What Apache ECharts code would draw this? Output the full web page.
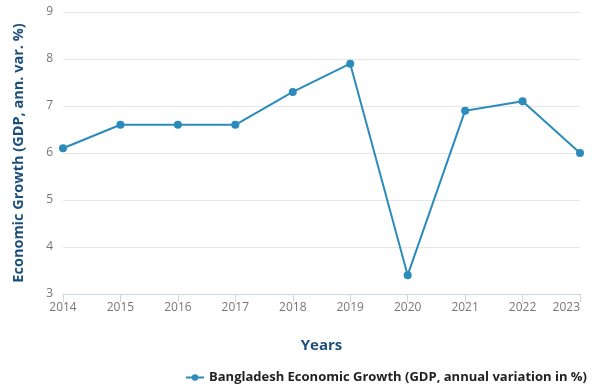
<!DOCTYPE html>
<html>
<head>
<meta charset="utf-8">
<script src="https://cdn.jsdelivr.net/npm/echarts@6/dist/echarts.min.js"></script>
<style>
  html, body { margin: 0; padding: 0; background: #fff; }
  #chart { width: 592px; height: 389px; }
</style>
</head>
<body>
<div id="chart"></div>
<script>
// data
const years = ['2014', '2015', '2016', '2017', '2018', '2019', '2020', '2021', '2022', '2023']
const growth = [6.1, 6.6, 6.6, 6.6, 7.3, 7.9, 3.4, 6.9, 7.1, 6.0]
const seriesName = 'Bangladesh Economic Growth (GDP, annual variation in %)'

const chart = echarts.init(document.getElementById('chart'))

const option = {
  animation: false,
  textStyle: { fontFamily: '"Open Sans", sans-serif' },
  grid: { left: 63, right: 12, top: 12, bottom: 95, outerBoundsMode: 'none' },
  legend: {
    data: [seriesName],
    bottom: 0,
    left: 180,
    itemWidth: 18,
    itemHeight: 8,
    itemGap: 5,
    textStyle: { fontSize: 13, fontWeight: 'bold', color: '#222', fontFamily: '"Open Sans", sans-serif' }
  },
  xAxis: {
    type: 'category',
    data: years,
    boundaryGap: false,
    name: 'Years',
    nameLocation: 'middle',
    nameGap: 44,
    nameTextStyle: { fontSize: 15, fontWeight: 'bold', color: '#1d4f7c' },
    axisLine: { lineStyle: { color: '#ccd6eb' } },
    axisTick: { show: true, alignWithLabel: true, length: 8, lineStyle: { color: '#ccd6eb' } },
    axisLabel: { color: '#777', fontSize: 12, margin: 8, alignMaxLabel: 'right' }
  },
  yAxis: {
    type: 'value',
    min: 3,
    max: 9,
    interval: 1,
    name: 'Economic Growth (GDP, ann. var. %)',
    nameLocation: 'middle',
    nameGap: 37,
    nameTextStyle: { fontSize: 14.5, fontWeight: 'bold', color: '#1d4f7c' },
    axisLine: { show: false },
    axisTick: { show: false },
    axisLabel: { color: '#777', fontSize: 12, margin: 10 },
    splitLine: { lineStyle: { color: '#e6e6e6' } }
  },
  series: [{
    name: seriesName,
    type: 'line',
    data: growth,
    symbol: 'circle',
    symbolSize: 8,
    lineStyle: { width: 2, color: '#2b8bba' },
    itemStyle: { color: '#2b8bba' }
  }]
}

chart.setOption(option)
</script>
</body>
</html>
